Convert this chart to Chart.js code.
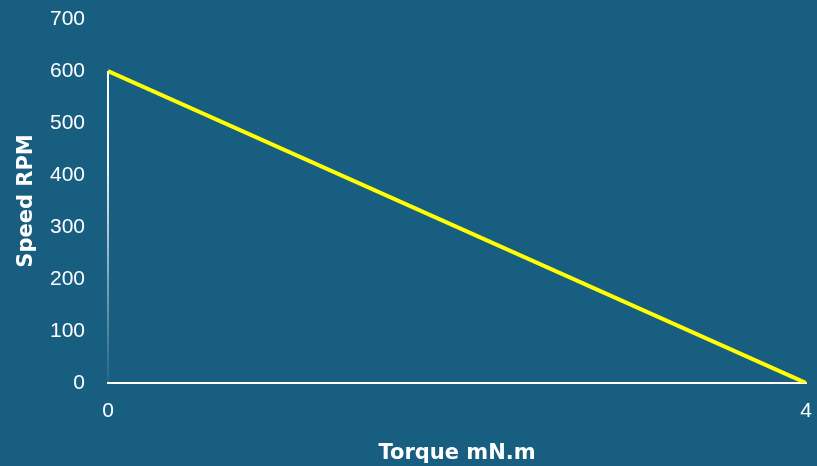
<!DOCTYPE html>
<html>
<head>
<meta charset="utf-8">
<script src="https://cdn.jsdelivr.net/npm/chart.js@4"></script>
<style>
  html, body { margin: 0; padding: 0; background: #175E80; }
  #wrap { width: 817px; height: 466px; }
</style>
</head>
<body>
<div id="wrap"><canvas id="speed-chart" width="817" height="466"></canvas></div>
<script>
const torque = [0, 4];
const speed = [600, 0];
const xTicks = [0, 4];
const yMax = 700;

// vertical axis line, fading out toward the bottom
const yAxisLine = {
    id: 'yAxisLine',
    afterDatasetsDraw(chart) {
        const ctx = chart.ctx;
        const x = chart.scales.x.getPixelForValue(0);
        const top = chart.scales.y.getPixelForValue(speed[0]);
        const bottom = chart.scales.y.getPixelForValue(0);
        const grad = ctx.createLinearGradient(0, top, 0, bottom);
        grad.addColorStop(0, 'rgba(255,255,255,1)');
        grad.addColorStop(0.3, 'rgba(255,255,255,0.95)');
        grad.addColorStop(0.7, 'rgba(255,255,255,0.4)');
        grad.addColorStop(1, 'rgba(255,255,255,0.05)');
        ctx.save();
        ctx.strokeStyle = grad;
        ctx.lineWidth = 2;
        ctx.beginPath();
        ctx.moveTo(x, top);
        ctx.lineTo(x, bottom);
        ctx.stroke();
        ctx.restore();
    }
};

const tickFont = { family: 'Liberation Sans', size: 21 };
const titleFont = { family: 'DejaVu Sans', size: 21, weight: 'bold' };

new Chart(document.querySelector('#speed-chart').getContext('2d'), {
    type: 'line',
    data: {
        datasets: [{
            data: torque.map((t, i) => ({ x: t, y: speed[i] })),
            borderColor: '#FFFF00',
            borderWidth: 4,
            pointRadius: 0,
            fill: false
        }]
    },
    options: {
        responsive: false,
        animation: false,
        layout: { padding: 0 },
        plugins: { legend: { display: false }, tooltip: { enabled: false } },
        scales: {
            x: {
                type: 'linear',
                min: 0,
                max: 4,
                afterBuildTicks: axis => { axis.ticks = xTicks.map(v => ({ value: v })); },
                afterFit: axis => {
                    axis.height = 83;
                    axis.paddingLeft = 0;
                    axis.paddingRight = 11;
                },
                grid: { display: false, drawTicks: false },
                border: { display: true, color: '#FFFFFF', width: 2 },
                ticks: { color: '#FFFFFF', padding: 16, font: tickFont },
                title: {
                    display: true,
                    text: 'Torque mN.m',
                    color: '#FFFFFF',
                    padding: { top: 0, bottom: 0 },
                    font: titleFont
                }
            },
            y: {
                min: 0,
                max: yMax,
                afterFit: axis => {
                    axis.width = 108;
                    axis.paddingTop = 19;
                    axis.paddingBottom = 0;
                },
                ticks: { stepSize: 100, color: '#FFFFFF', padding: 23, font: tickFont },
                grid: { display: false, drawTicks: false },
                border: { display: false },
                title: {
                    display: true,
                    text: 'Speed RPM',
                    color: '#FFFFFF',
                    padding: { top: 14, bottom: 0 },
                    font: titleFont
                }
            }
        }
    },
    plugins: [yAxisLine]
});
</script>
</body>
</html>
